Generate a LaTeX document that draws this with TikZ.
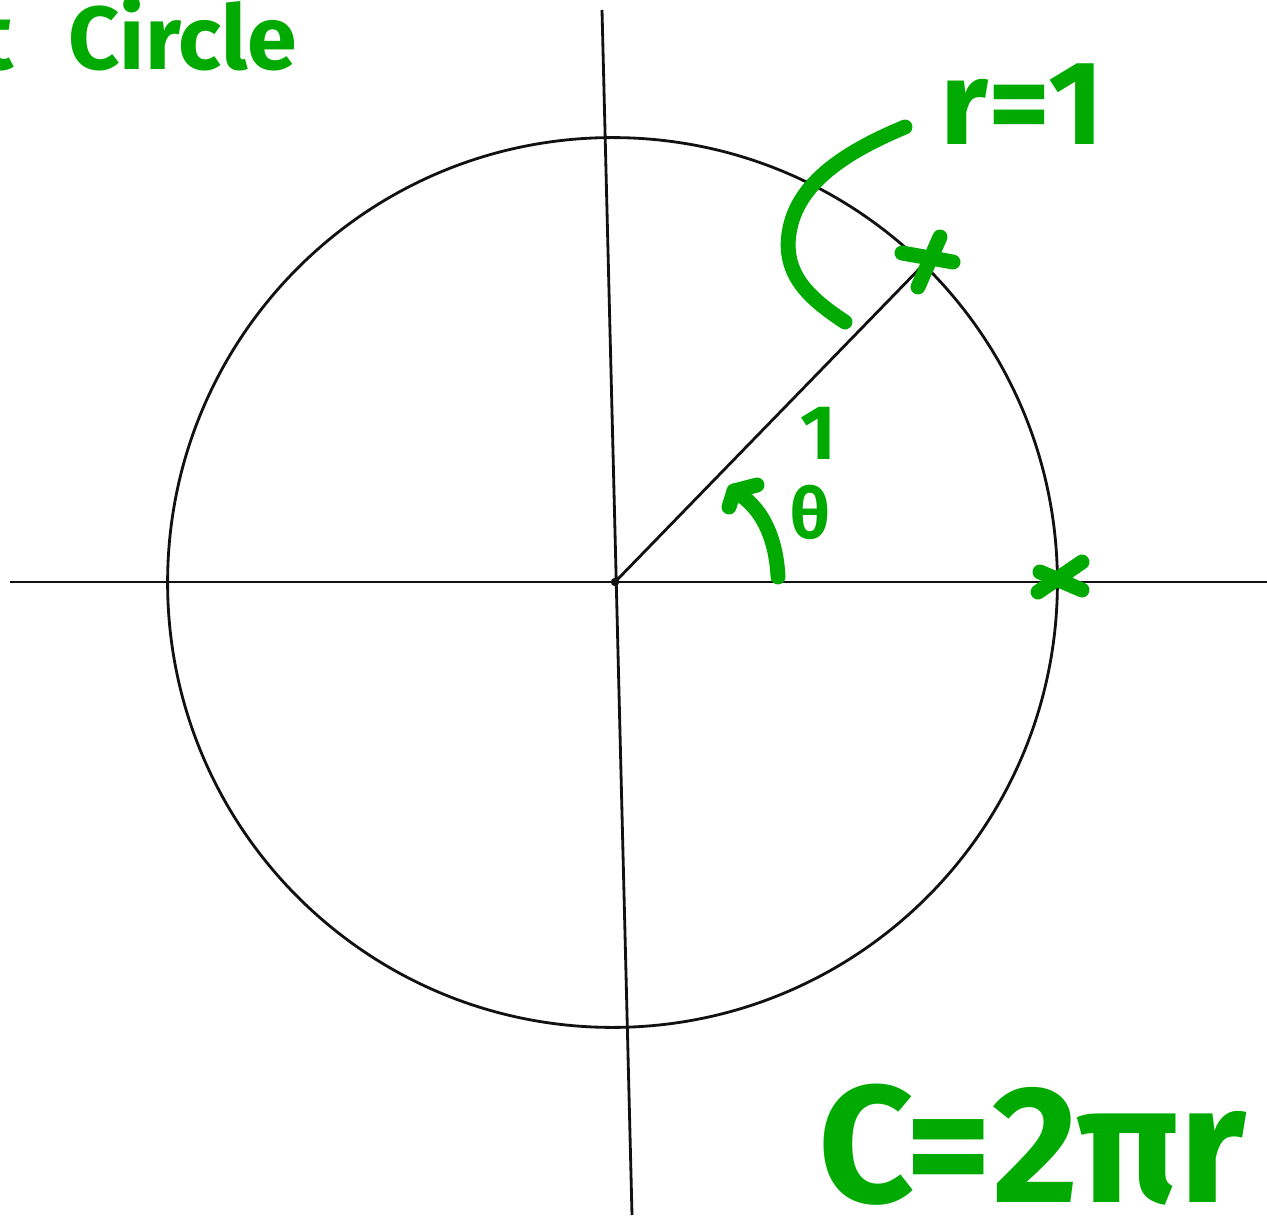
\documentclass[tikz,border=0pt]{standalone}
\usepackage{fontspec}
\setmainfont{Fira Sans}
\usetikzlibrary{positioning, arrows.meta, calc}
\definecolor{ucgreen}{HTML}{00AA00}
\definecolor{ucink}{HTML}{111111}

\begin{document}
\begin{tikzpicture}[x=0.02cm, y=-0.02cm,
    ink/.style={ucink, line width=1.6pt},
    pen/.style={ucgreen, line width=8.5pt, line cap=round, line join=round},
    every node/.style={text=ucgreen, inner sep=0pt}]
  \useasboundingbox (0,0) rectangle (1267,1219);
  \clip (0,0) rectangle (1267,1219);
  % axes, circle and radius
  \coordinate (O) at (615,582);
  \coordinate (xl) at (10,582);
  \coordinate (xr) at (1267,582);
  \coordinate (yt) at (602,10);
  \coordinate (yb) at (632,1215);
  \coordinate (P) at (925,263);
  \coordinate (Q) at (1060,580);
  \draw[ink] (xl) -- (xr);
  \draw[ink] (yt) -- (yb);
  \draw[ink] (612.5,582.5) circle [radius=8.9cm];
  \draw[ink] (O) -- (P);
  \fill[ucink] (O) circle (2.4pt);
  % crosses on the circle
  \draw[pen] ([shift={(-23,-10)}]P) -- ([shift={(28,-1)}]P)
             ([shift={(15,-26)}]P) -- ([shift={(-7,24)}]P);
  \draw[pen] ([shift={(-20,-8)}]Q) -- ([shift={(22,10)}]Q)
             ([shift={(22,-18)}]Q) -- ([shift={(-22,12)}]Q);
  % angle arrow
  \coordinate (a0) at (778,577);
  \coordinate (tip) at (734,491);
  \draw[pen] (a0) .. controls (776,535) and (760,505) .. (tip);
  \draw[pen] (729,507) -- (tip) -- (757,485);
  % labels
  \node[anchor=base east, font=\fontsize{53}{55}\selectfont\bfseries] (unit) at (14,70) {Unit};
  \node[anchor=base west, font=\fontsize{51}{53}\selectfont\bfseries] (circ) at (68,70) {Circle};
  \node[anchor=base west, font=\fontsize{68}{70}\selectfont\bfseries] (r1) at (940,145) {r=1};
  \node[font=\fontsize{44}{46}\selectfont\bfseries] (one) at (818,433) {1};
  \node[font=\fontsize{40}{42}\selectfont\bfseries] (th) at (810,512) {θ};
  \node[anchor=base west, font=\fontsize{95}{98}\selectfont\bfseries] (circum) at (818,1202) {C=2πr};
  % bracket from r=1 to the radius
  \coordinate (b0) at (905,127);
  \coordinate (b1) at (790,228);
  \coordinate (b2) at (845,322);
  \draw[pen] (b0) .. controls (850,150) and (800,180) .. (b1)
             .. controls (780,275) and (812,300) .. (b2);
\end{tikzpicture}
\end{document}
